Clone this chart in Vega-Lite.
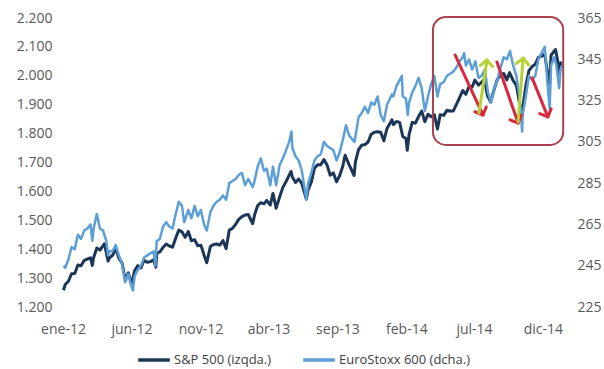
{
  "$schema": "https://vega.github.io/schema/vega-lite/v6.json",
  "width": 502,
  "height": 289,
  "autosize": {"type": "none"},
  "padding": {"left": 63, "top": 18, "right": 39, "bottom": 62},
  "background": "white",
  "config": {
    "view": {"stroke": null},
    "font": "Open Sans",
    "axis": {
      "labelFont": "Open Sans",
      "labelFontSize": 14,
      "labelColor": "#595959",
      "grid": false,
      "domain": false,
      "ticks": false,
      "title": null
    }
  },
  "datasets": {
    "sp500": [
      {"d": "2012-01-02", "v": 1258}, {"d": "2012-01-06", "v": 1278}, {"d": "2012-01-13", "v": 1289}, {"d": "2012-01-20", "v": 1315},
      {"d": "2012-01-27", "v": 1316}, {"d": "2012-02-03", "v": 1345}, {"d": "2012-02-10", "v": 1343}, {"d": "2012-02-17", "v": 1361},
      {"d": "2012-02-24", "v": 1366}, {"d": "2012-03-02", "v": 1370}, {"d": "2012-03-06", "v": 1344}, {"d": "2012-03-09", "v": 1371},
      {"d": "2012-03-16", "v": 1404}, {"d": "2012-03-23", "v": 1397}, {"d": "2012-04-02", "v": 1419}, {"d": "2012-04-10", "v": 1359},
      {"d": "2012-04-13", "v": 1370}, {"d": "2012-04-20", "v": 1379}, {"d": "2012-04-27", "v": 1403}, {"d": "2012-05-04", "v": 1369},
      {"d": "2012-05-11", "v": 1353}, {"d": "2012-05-18", "v": 1295}, {"d": "2012-05-25", "v": 1318}, {"d": "2012-06-01", "v": 1278},
      {"d": "2012-06-08", "v": 1326}, {"d": "2012-06-15", "v": 1343}, {"d": "2012-06-22", "v": 1335}, {"d": "2012-06-29", "v": 1362},
      {"d": "2012-07-06", "v": 1355}, {"d": "2012-07-13", "v": 1357}, {"d": "2012-07-20", "v": 1363}, {"d": "2012-07-25", "v": 1338},
      {"d": "2012-07-27", "v": 1386}, {"d": "2012-08-03", "v": 1391}, {"d": "2012-08-10", "v": 1406}, {"d": "2012-08-17", "v": 1418},
      {"d": "2012-08-24", "v": 1411}, {"d": "2012-08-31", "v": 1407}, {"d": "2012-09-07", "v": 1438}, {"d": "2012-09-14", "v": 1466},
      {"d": "2012-09-21", "v": 1460}, {"d": "2012-09-28", "v": 1441}, {"d": "2012-10-05", "v": 1461}, {"d": "2012-10-12", "v": 1429},
      {"d": "2012-10-19", "v": 1433}, {"d": "2012-10-26", "v": 1412}, {"d": "2012-11-02", "v": 1414}, {"d": "2012-11-09", "v": 1380},
      {"d": "2012-11-15", "v": 1353}, {"d": "2012-11-23", "v": 1409}, {"d": "2012-11-30", "v": 1416}, {"d": "2012-12-07", "v": 1418},
      {"d": "2012-12-14", "v": 1414}, {"d": "2012-12-21", "v": 1430}, {"d": "2012-12-28", "v": 1402}, {"d": "2013-01-04", "v": 1466},
      {"d": "2013-01-11", "v": 1472}, {"d": "2013-01-18", "v": 1486}, {"d": "2013-01-25", "v": 1503}, {"d": "2013-02-01", "v": 1513},
      {"d": "2013-02-08", "v": 1518}, {"d": "2013-02-15", "v": 1520}, {"d": "2013-02-25", "v": 1488}, {"d": "2013-03-01", "v": 1518},
      {"d": "2013-03-08", "v": 1551}, {"d": "2013-03-15", "v": 1561}, {"d": "2013-03-22", "v": 1557}, {"d": "2013-03-28", "v": 1569},
      {"d": "2013-04-05", "v": 1553}, {"d": "2013-04-11", "v": 1593}, {"d": "2013-04-18", "v": 1542}, {"d": "2013-04-26", "v": 1582},
      {"d": "2013-05-03", "v": 1614}, {"d": "2013-05-10", "v": 1634}, {"d": "2013-05-21", "v": 1669}, {"d": "2013-05-24", "v": 1650},
      {"d": "2013-05-31", "v": 1631}, {"d": "2013-06-07", "v": 1643}, {"d": "2013-06-14", "v": 1627}, {"d": "2013-06-24", "v": 1573},
      {"d": "2013-06-28", "v": 1606}, {"d": "2013-07-05", "v": 1632}, {"d": "2013-07-12", "v": 1680}, {"d": "2013-07-19", "v": 1692},
      {"d": "2013-07-26", "v": 1692}, {"d": "2013-08-02", "v": 1710}, {"d": "2013-08-09", "v": 1691}, {"d": "2013-08-16", "v": 1656},
      {"d": "2013-08-23", "v": 1664}, {"d": "2013-08-30", "v": 1633}, {"d": "2013-09-06", "v": 1655}, {"d": "2013-09-13", "v": 1688},
      {"d": "2013-09-18", "v": 1725}, {"d": "2013-09-27", "v": 1692}, {"d": "2013-10-08", "v": 1655}, {"d": "2013-10-11", "v": 1703},
      {"d": "2013-10-18", "v": 1745}, {"d": "2013-10-25", "v": 1760}, {"d": "2013-11-01", "v": 1762}, {"d": "2013-11-08", "v": 1771},
      {"d": "2013-11-15", "v": 1798}, {"d": "2013-11-22", "v": 1805}, {"d": "2013-11-29", "v": 1806}, {"d": "2013-12-06", "v": 1805},
      {"d": "2013-12-13", "v": 1775}, {"d": "2013-12-20", "v": 1818}, {"d": "2013-12-31", "v": 1848}, {"d": "2014-01-03", "v": 1831},
      {"d": "2014-01-10", "v": 1842}, {"d": "2014-01-17", "v": 1839}, {"d": "2014-01-24", "v": 1790}, {"d": "2014-01-31", "v": 1783},
      {"d": "2014-02-03", "v": 1742}, {"d": "2014-02-07", "v": 1797}, {"d": "2014-02-14", "v": 1839}, {"d": "2014-02-21", "v": 1836},
      {"d": "2014-02-28", "v": 1859}, {"d": "2014-03-07", "v": 1878}, {"d": "2014-03-14", "v": 1841}, {"d": "2014-03-21", "v": 1867},
      {"d": "2014-03-28", "v": 1858}, {"d": "2014-04-04", "v": 1865}, {"d": "2014-04-11", "v": 1816}, {"d": "2014-04-17", "v": 1865},
      {"d": "2014-04-25", "v": 1863}, {"d": "2014-05-02", "v": 1881}, {"d": "2014-05-09", "v": 1878}, {"d": "2014-05-16", "v": 1878},
      {"d": "2014-05-23", "v": 1901}, {"d": "2014-05-30", "v": 1924}, {"d": "2014-06-06", "v": 1949}, {"d": "2014-06-13", "v": 1936},
      {"d": "2014-06-20", "v": 1963}, {"d": "2014-06-27", "v": 1961}, {"d": "2014-07-03", "v": 1985}, {"d": "2014-07-11", "v": 1968},
      {"d": "2014-07-18", "v": 1978}, {"d": "2014-07-24", "v": 1988}, {"d": "2014-07-31", "v": 1931}, {"d": "2014-08-07", "v": 1910},
      {"d": "2014-08-15", "v": 1955}, {"d": "2014-08-22", "v": 1988}, {"d": "2014-08-29", "v": 2003}, {"d": "2014-09-05", "v": 2008},
      {"d": "2014-09-12", "v": 1986}, {"d": "2014-09-18", "v": 2011}, {"d": "2014-09-26", "v": 1983}, {"d": "2014-10-03", "v": 1968},
      {"d": "2014-10-10", "v": 1906}, {"d": "2014-10-15", "v": 1862}, {"d": "2014-10-17", "v": 1887}, {"d": "2014-10-24", "v": 1965},
      {"d": "2014-10-31", "v": 2018}, {"d": "2014-11-07", "v": 2032}, {"d": "2014-11-14", "v": 2040}, {"d": "2014-11-21", "v": 2064},
      {"d": "2014-11-28", "v": 2068}, {"d": "2014-12-05", "v": 2075}, {"d": "2014-12-12", "v": 2002}, {"d": "2014-12-16", "v": 1973},
      {"d": "2014-12-19", "v": 2071}, {"d": "2014-12-29", "v": 2091}, {"d": "2015-01-02", "v": 2058}, {"d": "2015-01-06", "v": 2003},
      {"d": "2015-01-09", "v": 2045}, {"d": "2015-01-12", "v": 2028}
    ],
    "stoxx600": [
      {"d": "2012-01-02", "v": 245}, {"d": "2012-01-06", "v": 244}, {"d": "2012-01-13", "v": 248}, {"d": "2012-01-20", "v": 254},
      {"d": "2012-01-27", "v": 253}, {"d": "2012-02-03", "v": 260}, {"d": "2012-02-10", "v": 258}, {"d": "2012-02-17", "v": 262},
      {"d": "2012-02-24", "v": 263}, {"d": "2012-03-02", "v": 265}, {"d": "2012-03-06", "v": 257}, {"d": "2012-03-09", "v": 263},
      {"d": "2012-03-16", "v": 270}, {"d": "2012-03-23", "v": 263}, {"d": "2012-03-30", "v": 262}, {"d": "2012-04-06", "v": 257},
      {"d": "2012-04-10", "v": 250}, {"d": "2012-04-13", "v": 252}, {"d": "2012-04-20", "v": 252}, {"d": "2012-04-27", "v": 255},
      {"d": "2012-05-04", "v": 250}, {"d": "2012-05-11", "v": 246}, {"d": "2012-05-18", "v": 237}, {"d": "2012-05-25", "v": 241},
      {"d": "2012-06-01", "v": 235}, {"d": "2012-06-04", "v": 233}, {"d": "2012-06-08", "v": 240}, {"d": "2012-06-15", "v": 243},
      {"d": "2012-06-22", "v": 245}, {"d": "2012-06-29", "v": 249}, {"d": "2012-07-06", "v": 250}, {"d": "2012-07-13", "v": 251},
      {"d": "2012-07-20", "v": 252}, {"d": "2012-07-24", "v": 245}, {"d": "2012-07-27", "v": 257}, {"d": "2012-08-03", "v": 258},
      {"d": "2012-08-10", "v": 264}, {"d": "2012-08-17", "v": 266}, {"d": "2012-08-24", "v": 264}, {"d": "2012-08-31", "v": 263},
      {"d": "2012-09-07", "v": 270}, {"d": "2012-09-14", "v": 276}, {"d": "2012-09-21", "v": 274}, {"d": "2012-09-26", "v": 266},
      {"d": "2012-10-05", "v": 272}, {"d": "2012-10-12", "v": 268}, {"d": "2012-10-19", "v": 274}, {"d": "2012-10-26", "v": 269},
      {"d": "2012-11-02", "v": 272}, {"d": "2012-11-09", "v": 265}, {"d": "2012-11-15", "v": 262}, {"d": "2012-11-23", "v": 271},
      {"d": "2012-11-30", "v": 274}, {"d": "2012-12-07", "v": 276}, {"d": "2012-12-14", "v": 277}, {"d": "2012-12-21", "v": 279},
      {"d": "2012-12-28", "v": 277}, {"d": "2013-01-04", "v": 285}, {"d": "2013-01-11", "v": 286}, {"d": "2013-01-18", "v": 287},
      {"d": "2013-01-25", "v": 289}, {"d": "2013-02-01", "v": 290}, {"d": "2013-02-08", "v": 284}, {"d": "2013-02-15", "v": 287},
      {"d": "2013-02-25", "v": 283}, {"d": "2013-03-01", "v": 286}, {"d": "2013-03-08", "v": 293}, {"d": "2013-03-15", "v": 297},
      {"d": "2013-03-22", "v": 291}, {"d": "2013-03-28", "v": 292}, {"d": "2013-04-05", "v": 284}, {"d": "2013-04-11", "v": 293},
      {"d": "2013-04-18", "v": 284}, {"d": "2013-04-26", "v": 294}, {"d": "2013-05-03", "v": 297}, {"d": "2013-05-10", "v": 301},
      {"d": "2013-05-17", "v": 305}, {"d": "2013-05-22", "v": 310}, {"d": "2013-05-24", "v": 302}, {"d": "2013-05-31", "v": 298},
      {"d": "2013-06-07", "v": 296}, {"d": "2013-06-14", "v": 291}, {"d": "2013-06-24", "v": 277}, {"d": "2013-06-28", "v": 285},
      {"d": "2013-07-05", "v": 290}, {"d": "2013-07-12", "v": 296}, {"d": "2013-07-19", "v": 298}, {"d": "2013-07-26", "v": 299},
      {"d": "2013-08-02", "v": 305}, {"d": "2013-08-09", "v": 303}, {"d": "2013-08-16", "v": 302}, {"d": "2013-08-23", "v": 301},
      {"d": "2013-08-30", "v": 296}, {"d": "2013-09-06", "v": 300}, {"d": "2013-09-13", "v": 306}, {"d": "2013-09-20", "v": 313},
      {"d": "2013-09-27", "v": 308}, {"d": "2013-10-09", "v": 305}, {"d": "2013-10-18", "v": 317}, {"d": "2013-10-25", "v": 319},
      {"d": "2013-11-01", "v": 322}, {"d": "2013-11-08", "v": 319}, {"d": "2013-11-15", "v": 324}, {"d": "2013-11-22", "v": 323},
      {"d": "2013-11-29", "v": 327}, {"d": "2013-12-06", "v": 318}, {"d": "2013-12-13", "v": 315}, {"d": "2013-12-20", "v": 323},
      {"d": "2013-12-31", "v": 328}, {"d": "2014-01-03", "v": 327}, {"d": "2014-01-10", "v": 332}, {"d": "2014-01-22", "v": 337},
      {"d": "2014-01-24", "v": 327}, {"d": "2014-01-31", "v": 326}, {"d": "2014-02-04", "v": 318}, {"d": "2014-02-07", "v": 324},
      {"d": "2014-02-14", "v": 329}, {"d": "2014-02-21", "v": 332}, {"d": "2014-02-28", "v": 336}, {"d": "2014-03-07", "v": 331},
      {"d": "2014-03-14", "v": 320}, {"d": "2014-03-21", "v": 327}, {"d": "2014-03-28", "v": 333}, {"d": "2014-04-04", "v": 337},
      {"d": "2014-04-11", "v": 327}, {"d": "2014-04-17", "v": 333}, {"d": "2014-04-25", "v": 334}, {"d": "2014-05-02", "v": 337},
      {"d": "2014-05-09", "v": 338}, {"d": "2014-05-16", "v": 339}, {"d": "2014-05-23", "v": 341}, {"d": "2014-05-30", "v": 344},
      {"d": "2014-06-06", "v": 346}, {"d": "2014-06-09", "v": 348}, {"d": "2014-06-13", "v": 342}, {"d": "2014-06-20", "v": 345},
      {"d": "2014-06-27", "v": 340}, {"d": "2014-07-04", "v": 344}, {"d": "2014-07-11", "v": 336}, {"d": "2014-07-18", "v": 337},
      {"d": "2014-07-25", "v": 340}, {"d": "2014-08-01", "v": 329}, {"d": "2014-08-08", "v": 324}, {"d": "2014-08-15", "v": 331},
      {"d": "2014-08-22", "v": 335}, {"d": "2014-08-29", "v": 341}, {"d": "2014-09-05", "v": 346}, {"d": "2014-09-12", "v": 345},
      {"d": "2014-09-19", "v": 349}, {"d": "2014-09-26", "v": 342}, {"d": "2014-10-03", "v": 337}, {"d": "2014-10-10", "v": 327},
      {"d": "2014-10-16", "v": 310}, {"d": "2014-10-17", "v": 318}, {"d": "2014-10-24", "v": 327}, {"d": "2014-10-31", "v": 337},
      {"d": "2014-11-07", "v": 335}, {"d": "2014-11-14", "v": 337}, {"d": "2014-11-21", "v": 345}, {"d": "2014-11-28", "v": 348},
      {"d": "2014-12-05", "v": 351}, {"d": "2014-12-12", "v": 331}, {"d": "2014-12-16", "v": 321}, {"d": "2014-12-19", "v": 342},
      {"d": "2014-12-26", "v": 346}, {"d": "2014-12-31", "v": 342}, {"d": "2015-01-06", "v": 331}, {"d": "2015-01-09", "v": 340},
      {"d": "2015-01-12", "v": 342}
    ],
    "box": [
      {"start": "2014-04-01", "end": "2015-01-15", "lo": 303.5, "hi": 365.5}
    ],
    "falls": [
      {"from": "2014-05-20", "to": "2014-07-21", "top": 347.1, "bottom": 318.0},
      {"from": "2014-08-21", "to": "2014-10-07", "top": 343.7, "bottom": 314.1},
      {"from": "2014-11-07", "to": "2014-12-12", "top": 336.0, "bottom": 317.1}
    ],
    "rebounds": [
      {"from": "2014-07-12", "to": "2014-07-30", "bottom": 319.0, "top": 344.7},
      {"from": "2014-10-07", "to": "2014-10-18", "bottom": 314.6, "top": 345.6}
    ]
  },
  "encoding": {
    "x": {
      "field": "d",
      "type": "temporal",
      "scale": {
        "type": "utc",
        "domain": [
          {"year": 2012, "month": 1, "date": 1, "utc": true},
          {"year": 2015, "month": 1, "date": 19, "utc": true}
        ]
      },
      "axis": {
        "orient": "bottom",
        "labelPadding": 15,
        "labelFlush": false,
        "labelOverlap": false,
        "values": [
          {"year": 2012, "month": 1, "date": 1, "utc": true},
          {"year": 2012, "month": 6, "date": 1, "utc": true},
          {"year": 2012, "month": 11, "date": 1, "utc": true},
          {"year": 2013, "month": 4, "date": 1, "utc": true},
          {"year": 2013, "month": 9, "date": 1, "utc": true},
          {"year": 2014, "month": 2, "date": 1, "utc": true},
          {"year": 2014, "month": 7, "date": 1, "utc": true},
          {"year": 2014, "month": 12, "date": 1, "utc": true}
        ],
        "labelExpr": "['ene','feb','mar','abr','may','jun','jul','ago','sep','oct','nov','dic'][utcmonth(datum.value)] + '-' + utcFormat(datum.value, '%y')"
      }
    }
  },
  "layer": [
    {
      "data": {"name": "sp500"},
      "mark": {"type": "line", "strokeWidth": 3, "strokeJoin": "round"},
      "encoding": {
        "y": {
          "field": "v",
          "type": "quantitative",
          "scale": {"domain": [1200, 2200], "nice": false, "zero": false},
          "axis": {
            "orient": "left",
            "labelPadding": 11,
            "values": [1200, 1300, 1400, 1500, 1600, 1700, 1800, 1900, 2000, 2100, 2200],
            "labelExpr": "replace(format(datum.value, ','), ',', '.')"
          }
        },
        "color": {
          "datum": "S&P 500 (izqda.)",
          "scale": {
            "domain": ["S&P 500 (izqda.)", "EuroStoxx 600 (dcha.)"],
            "range": ["#1B3656", "#5B9FD6"]
          },
          "legend": {
            "orient": "none",
            "direction": "horizontal",
            "legendX": 73,
            "legendY": 324,
            "title": null,
            "symbolType": "stroke",
            "symbolSize": 1000,
            "symbolStrokeWidth": 3.5,
            "labelFont": "Open Sans",
            "labelFontSize": 13,
            "labelColor": "#404040",
            "labelOffset": 2,
            "columnPadding": 24
          }
        }
      }
    },
    {
      "layer": [
        {
          "data": {"name": "stoxx600"},
          "mark": {"type": "line", "strokeWidth": 2.5, "strokeJoin": "round"},
          "encoding": {
            "y": {
              "field": "v",
              "type": "quantitative",
              "scale": {"domain": [225, 365], "nice": false, "zero": false},
              "axis": {
                "orient": "right",
                "labelPadding": 12,
                "values": [225, 245, 265, 285, 305, 325, 345, 365]
              }
            },
            "color": {"datum": "EuroStoxx 600 (dcha.)"}
          }
        },
        {
          "data": {"name": "box"},
          "mark": {"type": "rect", "fill": null, "stroke": "#A8424E", "strokeWidth": 2, "cornerRadius": 13},
          "encoding": {
            "x": {"field": "start", "type": "temporal"},
            "x2": {"field": "end"},
            "y": {"field": "lo", "type": "quantitative"},
            "y2": {"field": "hi"}
          }
        },
        {
          "data": {"name": "falls"},
          "mark": {"type": "rule", "stroke": "#D8283E", "strokeWidth": 3, "strokeCap": "round"},
          "encoding": {
            "x": {"field": "from", "type": "temporal"},
            "x2": {"field": "to"},
            "y": {"field": "top", "type": "quantitative"},
            "y2": {"field": "bottom"}
          }
        },
        {
          "data": {"name": "falls"},
          "mark": {
            "type": "point",
            "shape": "M-0.6,0.6L0,0L0.6,0.6",
            "filled": false,
            "stroke": "#D8283E",
            "strokeWidth": 3,
            "strokeCap": "round",
            "strokeJoin": "round",
            "size": 420,
            "angle": 157,
            "opacity": 1
          },
          "encoding": {
            "x": {"field": "to", "type": "temporal"},
            "y": {"field": "bottom", "type": "quantitative"}
          }
        },
        {
          "data": {"name": "rebounds"},
          "mark": {"type": "rule", "stroke": "#B6D232", "strokeWidth": 3, "strokeCap": "round"},
          "encoding": {
            "x": {"field": "from", "type": "temporal"},
            "x2": {"field": "to"},
            "y": {"field": "bottom", "type": "quantitative"},
            "y2": {"field": "top"}
          }
        },
        {
          "data": {"name": "rebounds"},
          "mark": {
            "type": "point",
            "shape": "M-0.6,0.6L0,0L0.6,0.6",
            "filled": false,
            "stroke": "#B6D232",
            "strokeWidth": 3,
            "strokeCap": "round",
            "strokeJoin": "round",
            "size": 420,
            "angle": 6,
            "opacity": 1
          },
          "encoding": {
            "x": {"field": "to", "type": "temporal"},
            "y": {"field": "top", "type": "quantitative"}
          }
        }
      ]
    }
  ],
  "resolve": {"scale": {"y": "independent"}}
}
